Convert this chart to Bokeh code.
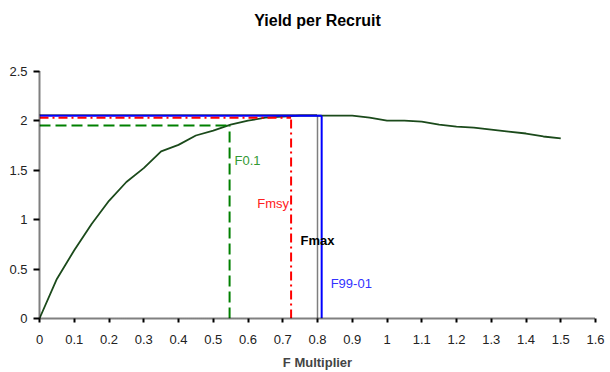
from bokeh.plotting import figure
from bokeh.models import FixedTicker, Label, Range1d, ColumnDataSource
from bokeh.embed import file_html
from bokeh.resources import INLINE

# ---- data ----
f_mult = [0.0, 0.05, 0.1, 0.15, 0.2, 0.25, 0.3, 0.35, 0.4, 0.45, 0.5, 0.55,
          0.6, 0.65, 0.7, 0.75, 0.8, 0.85, 0.9, 0.95, 1.0, 1.05, 1.1, 1.15,
          1.2, 1.25, 1.3, 1.35, 1.4, 1.45, 1.5]
ypr = [0.0, 0.40, 0.69, 0.955, 1.19, 1.38, 1.52, 1.69, 1.755, 1.85, 1.90, 1.96,
       2.00, 2.03, 2.04, 2.05, 2.05, 2.05, 2.05, 2.03, 2.00, 2.00, 1.99, 1.96,
       1.94, 1.93, 1.91, 1.89, 1.87, 1.84, 1.82]

x_ticks = [0, 0.1, 0.2, 0.3, 0.4, 0.5, 0.6, 0.7, 0.8, 0.9, 1.0, 1.1, 1.2, 1.3, 1.4, 1.5, 1.6]
x_tick_labels = ["0", "0.1", "0.2", "0.3", "0.4", "0.5", "0.6", "0.7", "0.8", "0.9",
                 "1", "1.1", "1.2", "1.3", "1.4", "1.5", "1.6"]
y_ticks = [0, 0.5, 1.0, 1.5, 2.0, 2.5]
y_tick_labels = ["0", "0.5", "1", "1.5", "2", "2.5"]

ref_names = ["F0.1", "Fmsy", "Fmax", "F99-01"]
ref_f = [0.547, 0.724, 0.800, 0.812]
ref_ypr = [1.95, 2.03, 2.06, 2.05]

FONT = "Liberation Sans"

# y range extends above the 2.5 axis end to leave room under the title
p = figure(width=610, height=372, output_backend="svg", toolbar_location=None,
           x_range=Range1d(0, 1.6), y_range=Range1d(0, 2.871),
           min_border_left=39, min_border_right=15, min_border_top=34, min_border_bottom=54,
           title="Yield per Recruit")
p.outline_line_color = None
p.grid.visible = False
p.background_fill_color = "white"
p.border_fill_color = "white"

p.title.align = "center"
p.title.text_font = FONT
p.title.text_font_size = "16px"
p.title.text_font_style = "bold"
p.title.text_color = "black"
p.title.standoff = 12

# axes
for ax in (p.xaxis[0], p.yaxis[0]):
    ax.axis_line_dash = "1 1"
    ax.axis_line_width = 2
    ax.axis_line_color = "black"
    ax.major_tick_line_width = 2
    ax.major_tick_line_color = "black"
    ax.major_tick_in = 0
    ax.minor_tick_line_color = None
    ax.major_label_text_font = FONT
    ax.major_label_text_font_size = "13px"
    ax.major_label_text_color = "#222222"

p.xaxis.ticker = FixedTicker(ticks=x_ticks)
p.xaxis.major_label_overrides = {t: l for t, l in zip(x_ticks, x_tick_labels)}
p.xaxis.major_tick_out = 4
p.xaxis.major_label_standoff = 12
p.xaxis.axis_label = "F Multiplier"
p.xaxis.axis_label_text_font = FONT
p.xaxis.axis_label_text_font_size = "13px"
p.xaxis.axis_label_text_font_style = "bold"
p.xaxis.axis_label_standoff = 8

p.yaxis.ticker = FixedTicker(ticks=y_ticks)
p.yaxis.bounds = (y_ticks[0], y_ticks[-1])
p.yaxis.major_label_overrides = {t: l for t, l in zip(y_ticks, y_tick_labels)}
p.yaxis.major_tick_out = 6
p.yaxis.major_label_standoff = 6

# curve
p.line(f_mult, ypr, line_color="#1b4a1b", line_width=1.8)

# reference lines
styles = {
    "F0.1": dict(color="#008000", dash="11 5", width=2),
    "Fmsy": dict(color="#ff0000", dash="9 4 2 4", width=2),
    "Fmax": dict(color="#000000", dash="1 1", width=1.5),
    "F99-01": dict(color="#0000ff", dash="solid", width=2),
}
order = ["F0.1", "Fmax", "F99-01", "Fmsy"]
for name in order:
    i = ref_names.index(name)
    st = styles[name]
    f, y = ref_f[i], ref_ypr[i]
    src = ColumnDataSource(dict(x0=[0, f], y0=[y, 0], x1=[f, f], y1=[y, y]))
    p.segment("x0", "y0", "x1", "y1", source=src, line_color=st["color"],
              line_dash=st["dash"], line_width=st["width"])

# labels
label_style = {
    "F0.1": dict(color="#339933", y=1.60, off=5, align="left", bold=False),
    "Fmsy": dict(color="#ff2020", y=1.16, off=-2, align="right", bold=False),
    "Fmax": dict(color="#000000", y=0.79, off=0, align="center", bold=True),
    "F99-01": dict(color="#3333ff", y=0.35, off=9, align="left", bold=False),
}
for i, name in enumerate(ref_names):
    ls = label_style[name]
    p.add_layout(Label(x=ref_f[i], y=ls["y"], text=name, x_offset=ls["off"],
                       text_align=ls["align"], text_baseline="middle",
                       text_font=FONT, text_font_size="13px",
                       text_font_style="bold" if ls["bold"] else "normal",
                       text_color=ls["color"]))

open("out.html", "w").write(file_html(p, INLINE))
